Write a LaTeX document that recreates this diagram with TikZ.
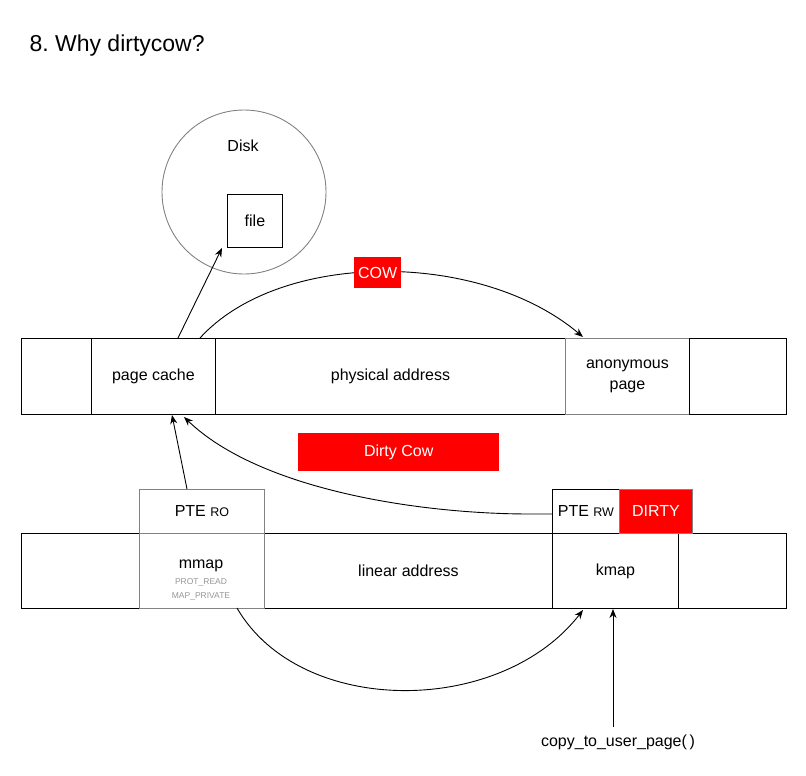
\documentclass[tikz,border=0pt]{standalone}
\usepackage{fontspec}
\setmainfont{Liberation Sans}
\usetikzlibrary{arrows.meta}
\definecolor{cowred}{RGB}{255,0,0}
\definecolor{edgegray}{RGB}{130,130,130}
\definecolor{smallgray}{RGB}{150,150,150}
\begin{document}
\begin{tikzpicture}[x=1pt,y=-1pt,
  lbl/.style={font=\fontsize{16}{20.5}\selectfont},
  cell/.style={draw=black,line width=0.9pt,fill=white,anchor=north west,inner sep=0pt,lbl,align=center},
  graycell/.style={cell,draw=edgegray},
  redbox/.style={fill=cowred,anchor=north west,inner sep=0pt,text=white,lbl},
  arr/.style={-{Stealth[length=9pt,width=7pt]},line width=0.9pt}
]
\useasboundingbox (0,0) rectangle (806,776);
\node[anchor=base west,font=\fontsize{23}{27}\selectfont] (title) at (26,52) {\frenchspacing 8. Why dirtycow?};

% disk
\node[draw=edgegray,line width=0.9pt,circle,minimum size=164pt,inner sep=0pt] (disk) at (244,192) {};
\node[lbl] (disklbl) at (243,146) {Disk};
\node[cell,minimum width=55pt,minimum height=53pt] (file) at (227,194) {file};

% physical address row
\node[cell,minimum width=70pt,minimum height=76pt] (pl) at (21,338) {};
\node[cell,minimum width=124pt,minimum height=76pt] (pc) at (91,338) {page cache};
\node[cell,minimum width=350pt,minimum height=76pt] (pa) at (215,338) {physical address};
\node[graycell,minimum width=124pt,minimum height=76pt] (anon) at (565,338) {anonymous\\page};
\node[cell,minimum width=97pt,minimum height=76pt] (pr) at (689,338) {};

% Dirty Cow
\node[redbox,minimum width=201pt,minimum height=38pt] (dc) at (298,433) {Dirty Cow};

% linear address row
\node[cell,minimum width=118pt,minimum height=75pt] (ll) at (21,533) {};
\node[cell,minimum width=288pt,minimum height=75pt] (la) at (264,533) {linear address};
\node[cell,minimum width=126pt,minimum height=75pt] (kmap) at (552,533) {kmap};
\node[cell,minimum width=108pt,minimum height=75pt] (lr) at (678,533) {};
\node[graycell,minimum width=125pt,minimum height=75pt] (mmap) at (139,533) {};
\node[lbl] (mmaplbl) at (201,566) {mmap};
\node[font=\fontsize{8.5}{10}\selectfont,text=smallgray] (prot) at (201,582) {PROT\_READ};
\node[font=\fontsize{8.5}{10}\selectfont,text=smallgray] (mpriv) at (201,596) {MAP\_PRIVATE};

% PTE boxes
\node[graycell,minimum width=125pt,minimum height=44pt] (pteRO) at (139,489) {PTE {\fontsize{12.5}{14}\selectfont RO}};
\node[cell,draw=black,minimum width=67pt,minimum height=44pt] (pteRW) at (552,489) {PTE {\fontsize{12.5}{14}\selectfont RW}};
\node[redbox,draw=edgegray,line width=0.9pt,minimum width=73pt,minimum height=44pt] (dirty) at (619,489) {DIRTY};

% caller
\node[lbl] (ctu) at (618,742) {copy\_to\_user\_page(\,)};

% connectors
\coordinate (pcTop) at (178,338);
\draw[arr] (pcTop) -- (222,248);
\coordinate (cowS) at (200,338);
\coordinate (cowE) at (583,337);
\draw[arr] (cowS) .. controls (280,250) and (480,250) .. (cowE);
\coordinate (roTop) at (187,489);
\coordinate (pcBot) at (172,415);
\draw[arr] (roTop) -- (pcBot);
\coordinate (rwStart) at (552,514);
\coordinate (rwBend) at (530,514);
\coordinate (pcBot2) at (184,417);
\draw[arr] (rwStart) -- (rwBend) .. controls (420,514) and (260,490) .. (pcBot2);
\coordinate (mmBot) at (237,608);
\coordinate (kmBot) at (583,610);
\draw[arr] (mmBot) .. controls (300,717) and (500,717) .. (kmBot);
\coordinate (kmBot2) at (613,609);
\draw[arr] (ctu.north -| kmBot2) ++(0,-4) -- (kmBot2);

% COW (on top of curve)
\node[redbox,minimum width=47pt,minimum height=31pt] (cow) at (354,257) {COW};
\end{tikzpicture}
\end{document}
